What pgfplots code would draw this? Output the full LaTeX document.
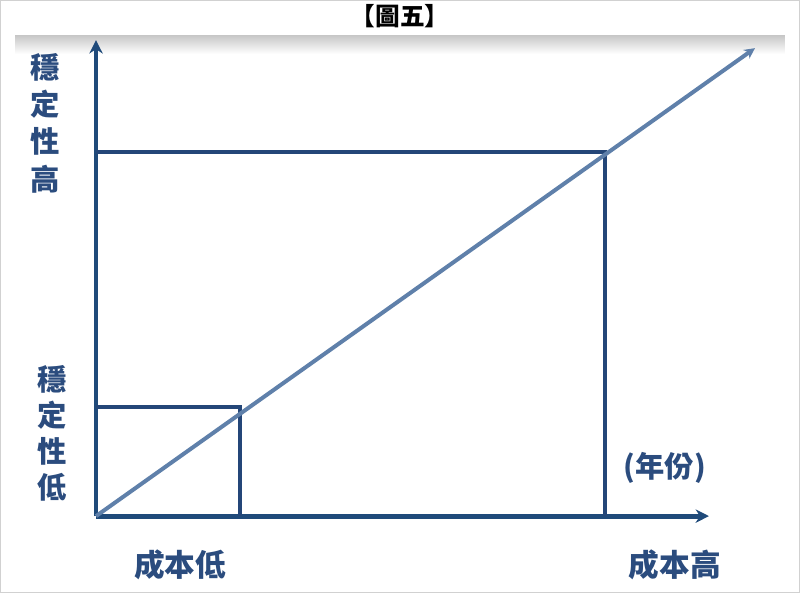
\documentclass[border=0pt]{standalone}
\usepackage{fontspec}
\usepackage{pgfplots}
\pgfplotsset{compat=1.18}
\usetikzlibrary{arrows.meta}
\newfontfamily\cjk{Noto Sans CJK TC}
\definecolor{axisblue}{RGB}{31,74,122}
\definecolor{boxblue}{RGB}{36,70,120}
\definecolor{diagblue}{RGB}{95,128,170}
\definecolor{textblue}{RGB}{43,76,126}
\begin{document}
\begin{tikzpicture}
\begin{axis}[
  width=600pt, height=444.75pt,
  scale only axis,
  xmin=-96, xmax=704,
  ymin=-77, ymax=516,
  hide axis,
  clip=false,
]
% frame and top band
\draw[black!18, line width=0.8pt] (axis cs:-95.5,-76.5) rectangle (axis cs:703.5,515.5);
\shade[top color=black!22, bottom color=white] (axis cs:-81,481) rectangle (axis cs:689,462);

% axes
\addplot[axisblue, line width=3.6pt, -{Stealth[length=10pt,width=10pt]}] coordinates {(0,0) (0,476)};
\addplot[axisblue, line width=3.6pt, -{Stealth[length=10pt,width=10pt]}] coordinates {(0,0) (613,0)};

% boxes
\addplot[boxblue, line width=2.6pt] coordinates {(0,109) (144,109) (144,0)};
\addplot[boxblue, line width=2.6pt] coordinates {(0,364) (509,364) (509,0)};

% diagonal
\addplot[diagblue, line width=3pt, -{Stealth[length=8pt,width=8pt]}] coordinates {(0,0) (659,468)};

% labels
\node[font=\cjk\bfseries\fontsize{18.5}{20}\selectfont, text=black] at (axis cs:304,500) {【圖五】};
\node[font=\cjk\bfseries\fontsize{22}{28}\selectfont, text=textblue, align=center] at (axis cs:-51,393) {穩\\定\\性\\高};
\node[font=\cjk\bfseries\fontsize{22}{27}\selectfont, text=textblue, align=center] at (axis cs:-44,83) {穩\\定\\性\\低};
\node[font=\cjk\bfseries\fontsize{23}{26}\selectfont, text=textblue] at (axis cs:84,-49) {成本低};
\node[font=\cjk\bfseries\fontsize{23}{26}\selectfont, text=textblue] at (axis cs:579,-49) {成本高};
\node[font=\cjk\bfseries\fontsize{22}{26}\selectfont, text=textblue] at (axis cs:569,48) {(年份)};
\end{axis}
\end{tikzpicture}
\end{document}
